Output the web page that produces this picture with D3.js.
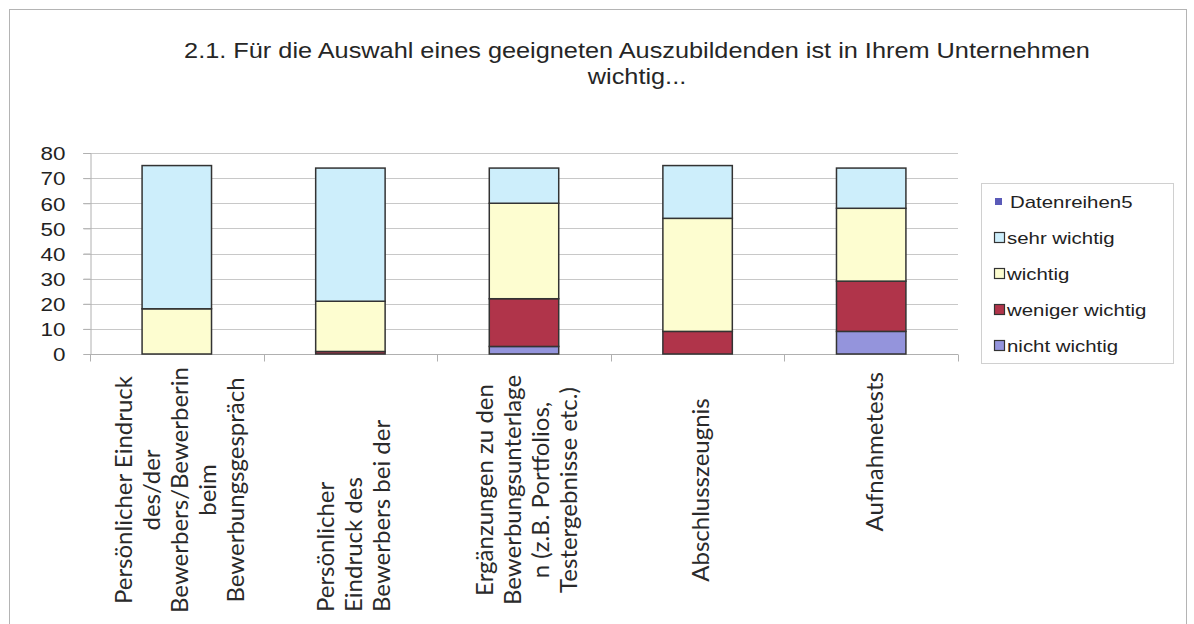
<!DOCTYPE html>
<html>
<head>
<meta charset="utf-8">
<script src="https://cdn.jsdelivr.net/npm/d3@7"></script>
<style>
  body { margin: 0; background: #fff; }
  svg { display: block; }
</style>
</head>
<body>
<svg id="chart" width="1194" height="624"></svg>
<script>
// data
const categories = [
  ['Persönlicher Eindruck', 'des/der', 'Bewerbers/Bewerberin', 'beim', 'Bewerbungsgespräch'],
  ['Persönlicher', 'Eindruck des', 'Bewerbers bei der'],
  ['Ergänzungen zu den', 'Bewerbungsunterlage', 'n (z.B. Portfolios,', 'Testergebnisse etc.)'],
  ['Abschlusszeugnis'],
  ['Aufnahmetests']
];
const nichtWichtig = [0, 0, 3, 0, 9];
const wenigerWichtig = [0, 1, 19, 9, 20];
const wichtig = [18, 20, 38, 45, 29];
const sehrWichtig = [57, 53, 14, 21, 16];
const datenreihen5 = [0, 0, 0, 0, 0];
const yTicks = [0, 10, 20, 30, 40, 50, 60, 70, 80];
const titleLines = ['2.1. Für die Auswahl eines geeigneten Auszubildenden ist in Ihrem Unternehmen', 'wichtig...'];

const series = [
  { key: 'nicht', name: 'nicht wichtig', values: nichtWichtig, color: '#9494dc' },
  { key: 'weniger', name: 'weniger wichtig', values: wenigerWichtig, color: '#b0344a' },
  { key: 'wichtig', name: 'wichtig', values: wichtig, color: '#fdfdd0' },
  { key: 'sehr', name: 'sehr wichtig', values: sehrWichtig, color: '#cdeefb' },
  { key: 'dr5', name: 'Datenreihen5', values: datenreihen5, color: '#5a5ab8' }
];

// label alignment along the rotated text (Excel put them a bit differently)
const labelAnchor = ['middle', 'start', 'middle', 'middle', 'end'];

const svg = d3.select('#chart');
const ARIAL = '"Liberation Sans", Arial, sans-serif';

// the scanned text is a bit wider than plain Arial
function stretch(sel, k) {
  sel.each(function () {
    const w = this.getComputedTextLength();
    this.setAttribute('textLength', w * k);
    this.setAttribute('lengthAdjust', 'spacingAndGlyphs');
  });
}

// outer frame
svg.append('rect')
  .attr('x', 9.5).attr('y', 9.5)
  .attr('width', 1177).attr('height', 640)
  .attr('fill', 'none')
  .attr('stroke', '#b4b4b4');

// title
const title = svg.append('text')
  .attr('x', 637).attr('y', 58)
  .attr('text-anchor', 'middle')
  .attr('font-family', ARIAL)
  .attr('font-size', 22)
  .attr('fill', '#262626');
title.selectAll('tspan')
  .data(titleLines)
  .join('tspan')
  .attr('x', 637)
  .attr('dy', (d, i) => i === 0 ? 0 : 26)
  .text(d => d);

const rows = categories.map((c, i) => {
  const r = { i };
  series.forEach(s => { r[s.key] = s.values[i]; });
  return r;
});

const stack = d3.stack().keys(series.map(s => s.key));
const stacked = stack(rows);

const x = d3.scaleBand()
  .domain(d3.range(categories.length))
  .range([90, 958])
  .paddingInner(0.6)
  .paddingOuter(0.3);

const xOuter = d3.scaleBand()
  .domain(d3.range(categories.length))
  .range([90, 958]);

const y = d3.scaleLinear()
  .domain([0, 80])
  .range([354, 153]);

// gridlines
svg.append('g')
  .selectAll('line')
  .data(yTicks.filter(d => d > 0))
  .join('line')
  .attr('x1', 83).attr('x2', 958)
  .attr('y1', d => Math.round(y(d)) + 0.5)
  .attr('y2', d => Math.round(y(d)) + 0.5)
  .attr('stroke', '#c8c8c8');

// y axis
const yAxis = svg.append('g')
  .attr('transform', 'translate(90.5,0)')
  .call(d3.axisLeft(y).tickValues(yTicks).tickSize(7).tickPadding(18));
yAxis.select('.domain').attr('stroke', '#b0b0b0');
yAxis.selectAll('.tick line').attr('stroke', '#b0b0b0');
yAxis.selectAll('.tick text')
  .attr('font-family', ARIAL)
  .attr('font-size', 19)
  .attr('fill', '#222')
  .attr('dy', '0.36em')
  .call(stretch, 1.18);

// x axis line with ticks between categories
const xAxisG = svg.append('g').attr('transform', 'translate(0,354.5)');
xAxisG.append('line')
  .attr('x1', 90).attr('x2', 958)
  .attr('stroke', '#b0b0b0');
xAxisG.selectAll('line.tk')
  .data(d3.range(categories.length + 1))
  .join('line')
  .attr('class', 'tk')
  .attr('x1', d => Math.round(90 + d * xOuter.step()) + 0.5)
  .attr('x2', d => Math.round(90 + d * xOuter.step()) + 0.5)
  .attr('y1', 0).attr('y2', 7)
  .attr('stroke', '#b0b0b0');

// bars
svg.append('g')
  .selectAll('g')
  .data(stacked)
  .join('g')
  .attr('fill', (d, i) => series[i].color)
  .selectAll('rect')
  .data(d => d.filter(p => p[1] - p[0] > 0))
  .join('rect')
  .attr('x', d => x(d.data.i))
  .attr('width', x.bandwidth())
  .attr('y', d => y(d[1]))
  .attr('height', d => y(d[0]) - y(d[1]))
  .attr('stroke', '#333')
  .attr('stroke-width', 1.5);

// category labels, rotated
const lineGap = 28;
const anchorY = { middle: 490, start: 612, end: 372 };
categories.forEach((lines, i) => {
  const cx = xOuter(i) + xOuter.bandwidth() / 2 + 3;
  const a = labelAnchor[i];
  lines.forEach((t, j) => {
    const lx = cx + (j - (lines.length - 1) / 2) * lineGap;
    svg.append('text')
      .attr('transform', `translate(${lx},${anchorY[a]}) rotate(-90)`)
      .attr('text-anchor', a)
      .attr('dy', '0.35em')
      .attr('font-family', 'Lato, "Open Sans", sans-serif')
      .attr('font-size', 24)
      .attr('fill', '#2a2a2a')
      .text(t);
  });
});

// legend
const legend = svg.append('g');
legend.append('rect')
  .attr('x', 981.5).attr('y', 183.5)
  .attr('width', 192).attr('height', 180)
  .attr('fill', '#fff')
  .attr('stroke', '#d0d0d0');

const legendOrder = series.slice().reverse();
const item = legend.selectAll('g.item')
  .data(legendOrder)
  .join('g')
  .attr('class', 'item')
  .attr('transform', (d, i) => `translate(0,${201.5 + i * 36})`);

item.append('rect')
  .attr('x', d => d.key === 'dr5' ? 995 : 994.5)
  .attr('y', d => d.key === 'dr5' ? -3.5 : -5)
  .attr('width', d => d.key === 'dr5' ? 7 : 10)
  .attr('height', d => d.key === 'dr5' ? 7 : 10)
  .attr('fill', d => d.color)
  .attr('stroke', d => d.key === 'dr5' ? 'none' : '#333')
  .attr('stroke-width', 1.2);

item.append('text')
  .attr('x', d => d.key === 'dr5' ? 1010 : 1007)
  .attr('dy', '0.36em')
  .attr('font-family', ARIAL)
  .attr('font-size', 17)
  .attr('fill', '#222')
  .text(d => d.name)
  .call(stretch, 1.2);

stretch(title.selectAll('tspan'), 1.15);
</script>
</body>
</html>
